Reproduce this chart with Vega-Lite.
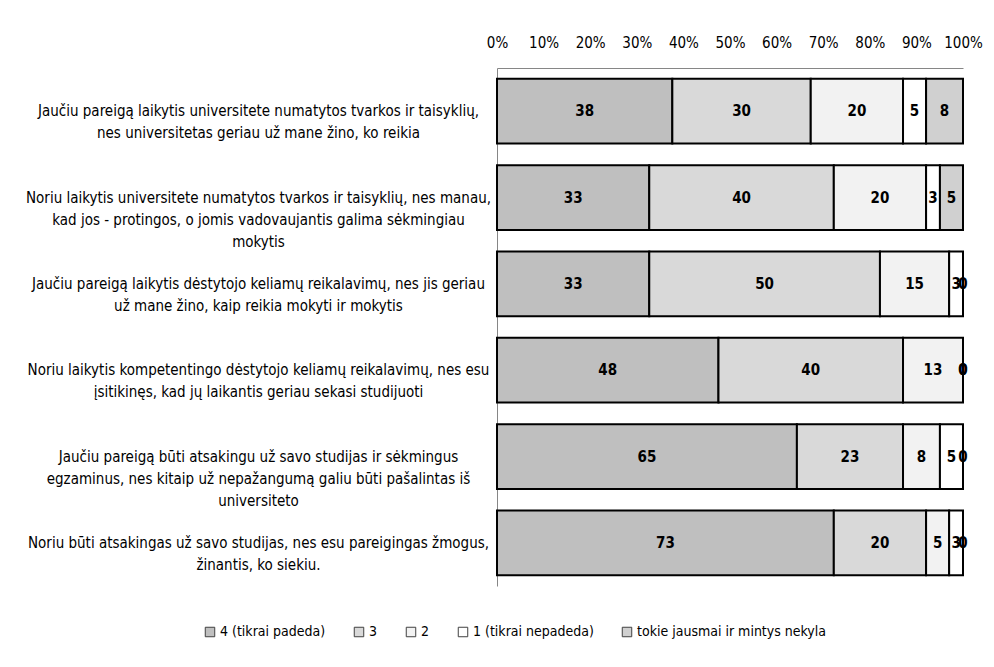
{
  "$schema": "https://vega.github.io/schema/vega-lite/v6.json",
  "autosize": {"type": "none"},
  "padding": {"left": 497, "top": 68, "right": 31, "bottom": 81},
  "width": 466,
  "height": 518,
  "background": "white",
  "config": {
    "view": {"stroke": null},
    "font": "Liberation Sans Narrow, DejaVu Sans Condensed, Roboto",
    "axis": {"labelFont": "Liberation Sans Narrow, DejaVu Sans Condensed, Roboto", "labelColor": "#000", "labelFontSize": 15},
    "legend": {"labelFont": "Liberation Sans Narrow, DejaVu Sans Condensed, Roboto", "labelColor": "#000", "labelFontSize": 14}
  },
  "data": {
    "values": [
      {"q": "Jaučiu pareigą laikytis universitete numatytos tvarkos ir taisyklių,|nes universitetas geriau už mane žino, ko reikia", "cat": "4 (tikrai padeda)", "k": 1, "v": 38},
      {"q": "Jaučiu pareigą laikytis universitete numatytos tvarkos ir taisyklių,|nes universitetas geriau už mane žino, ko reikia", "cat": "3", "k": 2, "v": 30},
      {"q": "Jaučiu pareigą laikytis universitete numatytos tvarkos ir taisyklių,|nes universitetas geriau už mane žino, ko reikia", "cat": "2", "k": 3, "v": 20},
      {"q": "Jaučiu pareigą laikytis universitete numatytos tvarkos ir taisyklių,|nes universitetas geriau už mane žino, ko reikia", "cat": "1 (tikrai nepadeda)", "k": 4, "v": 5},
      {"q": "Jaučiu pareigą laikytis universitete numatytos tvarkos ir taisyklių,|nes universitetas geriau už mane žino, ko reikia", "cat": "tokie jausmai ir mintys nekyla", "k": 5, "v": 8},
      {"q": "Noriu laikytis universitete numatytos tvarkos ir taisyklių, nes manau,|kad jos - protingos, o jomis vadovaujantis galima sėkmingiau|mokytis", "cat": "4 (tikrai padeda)", "k": 1, "v": 33},
      {"q": "Noriu laikytis universitete numatytos tvarkos ir taisyklių, nes manau,|kad jos - protingos, o jomis vadovaujantis galima sėkmingiau|mokytis", "cat": "3", "k": 2, "v": 40},
      {"q": "Noriu laikytis universitete numatytos tvarkos ir taisyklių, nes manau,|kad jos - protingos, o jomis vadovaujantis galima sėkmingiau|mokytis", "cat": "2", "k": 3, "v": 20},
      {"q": "Noriu laikytis universitete numatytos tvarkos ir taisyklių, nes manau,|kad jos - protingos, o jomis vadovaujantis galima sėkmingiau|mokytis", "cat": "1 (tikrai nepadeda)", "k": 4, "v": 3},
      {"q": "Noriu laikytis universitete numatytos tvarkos ir taisyklių, nes manau,|kad jos - protingos, o jomis vadovaujantis galima sėkmingiau|mokytis", "cat": "tokie jausmai ir mintys nekyla", "k": 5, "v": 5},
      {"q": "Jaučiu pareigą laikytis  dėstytojo keliamų reikalavimų, nes jis geriau|už mane žino, kaip reikia mokyti ir mokytis", "cat": "4 (tikrai padeda)", "k": 1, "v": 33},
      {"q": "Jaučiu pareigą laikytis  dėstytojo keliamų reikalavimų, nes jis geriau|už mane žino, kaip reikia mokyti ir mokytis", "cat": "3", "k": 2, "v": 50},
      {"q": "Jaučiu pareigą laikytis  dėstytojo keliamų reikalavimų, nes jis geriau|už mane žino, kaip reikia mokyti ir mokytis", "cat": "2", "k": 3, "v": 15},
      {"q": "Jaučiu pareigą laikytis  dėstytojo keliamų reikalavimų, nes jis geriau|už mane žino, kaip reikia mokyti ir mokytis", "cat": "1 (tikrai nepadeda)", "k": 4, "v": 3},
      {"q": "Jaučiu pareigą laikytis  dėstytojo keliamų reikalavimų, nes jis geriau|už mane žino, kaip reikia mokyti ir mokytis", "cat": "tokie jausmai ir mintys nekyla", "k": 5, "v": 0},
      {"q": "Noriu laikytis kompetentingo dėstytojo keliamų reikalavimų, nes esu|įsitikinęs, kad jų laikantis geriau sekasi studijuoti", "cat": "4 (tikrai padeda)", "k": 1, "v": 48},
      {"q": "Noriu laikytis kompetentingo dėstytojo keliamų reikalavimų, nes esu|įsitikinęs, kad jų laikantis geriau sekasi studijuoti", "cat": "3", "k": 2, "v": 40},
      {"q": "Noriu laikytis kompetentingo dėstytojo keliamų reikalavimų, nes esu|įsitikinęs, kad jų laikantis geriau sekasi studijuoti", "cat": "2", "k": 3, "v": 13},
      {"q": "Noriu laikytis kompetentingo dėstytojo keliamų reikalavimų, nes esu|įsitikinęs, kad jų laikantis geriau sekasi studijuoti", "cat": "1 (tikrai nepadeda)", "k": 4, "v": 0},
      {"q": "Noriu laikytis kompetentingo dėstytojo keliamų reikalavimų, nes esu|įsitikinęs, kad jų laikantis geriau sekasi studijuoti", "cat": "tokie jausmai ir mintys nekyla", "k": 5, "v": 0},
      {"q": "Jaučiu pareigą būti atsakingu už savo studijas ir sėkmingus|egzaminus, nes kitaip už nepažangumą galiu būti pašalintas iš|universiteto", "cat": "4 (tikrai padeda)", "k": 1, "v": 65},
      {"q": "Jaučiu pareigą būti atsakingu už savo studijas ir sėkmingus|egzaminus, nes kitaip už nepažangumą galiu būti pašalintas iš|universiteto", "cat": "3", "k": 2, "v": 23},
      {"q": "Jaučiu pareigą būti atsakingu už savo studijas ir sėkmingus|egzaminus, nes kitaip už nepažangumą galiu būti pašalintas iš|universiteto", "cat": "2", "k": 3, "v": 8},
      {"q": "Jaučiu pareigą būti atsakingu už savo studijas ir sėkmingus|egzaminus, nes kitaip už nepažangumą galiu būti pašalintas iš|universiteto", "cat": "1 (tikrai nepadeda)", "k": 4, "v": 5},
      {"q": "Jaučiu pareigą būti atsakingu už savo studijas ir sėkmingus|egzaminus, nes kitaip už nepažangumą galiu būti pašalintas iš|universiteto", "cat": "tokie jausmai ir mintys nekyla", "k": 5, "v": 0},
      {"q": "Noriu būti atsakingas už savo studijas, nes esu pareigingas žmogus,|žinantis, ko siekiu.", "cat": "4 (tikrai padeda)", "k": 1, "v": 73},
      {"q": "Noriu būti atsakingas už savo studijas, nes esu pareigingas žmogus,|žinantis, ko siekiu.", "cat": "3", "k": 2, "v": 20},
      {"q": "Noriu būti atsakingas už savo studijas, nes esu pareigingas žmogus,|žinantis, ko siekiu.", "cat": "2", "k": 3, "v": 5},
      {"q": "Noriu būti atsakingas už savo studijas, nes esu pareigingas žmogus,|žinantis, ko siekiu.", "cat": "1 (tikrai nepadeda)", "k": 4, "v": 3},
      {"q": "Noriu būti atsakingas už savo studijas, nes esu pareigingas žmogus,|žinantis, ko siekiu.", "cat": "tokie jausmai ir mintys nekyla", "k": 5, "v": 0}
    ]
  },
  "encoding": {
    "y": {
      "field": "q", "type": "nominal", "sort": null, "title": null,
      "scale": {"paddingInner": 0.25, "paddingOuter": 0.125},
      "axis": {
        "labelExpr": "split(datum.label, '|')",
        "labelAlign": "center", "labelPadding": 239, "labelLimit": 0,
        "labelLineHeight": 22, "ticks": false,
        "domainColor": "#868686", "domainWidth": 1
      }
    },
    "x": {
      "field": "v", "type": "quantitative", "stack": "normalize", "title": null,
      "axis": {
        "orient": "top", "format": ".0%", "values": [0,0.1,0.2,0.3,0.4,0.5,0.6,0.7,0.8,0.9,1],
        "grid": false, "ticks": false, "labelPadding": 18,
        "domainColor": "#868686", "domainWidth": 1, "labelFlush": false
      }
    },
    "order": {"field": "k", "type": "quantitative"}
  },
  "layer": [
    {
      "mark": {"type": "bar", "stroke": "#000", "strokeWidth": 2},
      "encoding": {
        "color": {
          "field": "cat", "type": "nominal",
          "scale": {
            "domain": ["4 (tikrai padeda)", "3", "2", "1 (tikrai nepadeda)", "tokie jausmai ir mintys nekyla"],
            "range": ["#bfbfbf", "#d9d9d9", "#f2f2f2", "#ffffff", "#d0d0d0"]
          },
          "legend": {
            "title": null, "orient": "none", "direction": "horizontal",
            "legendX": -294, "legendY": 557,
            "symbolType": "square", "symbolSize": 90,
            "symbolStrokeColor": "#404040", "symbolStrokeWidth": 1,
            "columnPadding": 26, "labelOffset": 3, "labelLimit": 0
          }
        }
      }
    },
    {
      "mark": {"type": "text", "fontWeight": "bold", "fontSize": 15, "color": "#000", "font": "Liberation Sans Narrow, DejaVu Sans Condensed, Roboto"},
      "encoding": {
        "x": {"field": "v", "type": "quantitative", "stack": "normalize", "bandPosition": 0.5},
        "text": {"field": "v", "type": "quantitative"}
      }
    }
  ]
}
